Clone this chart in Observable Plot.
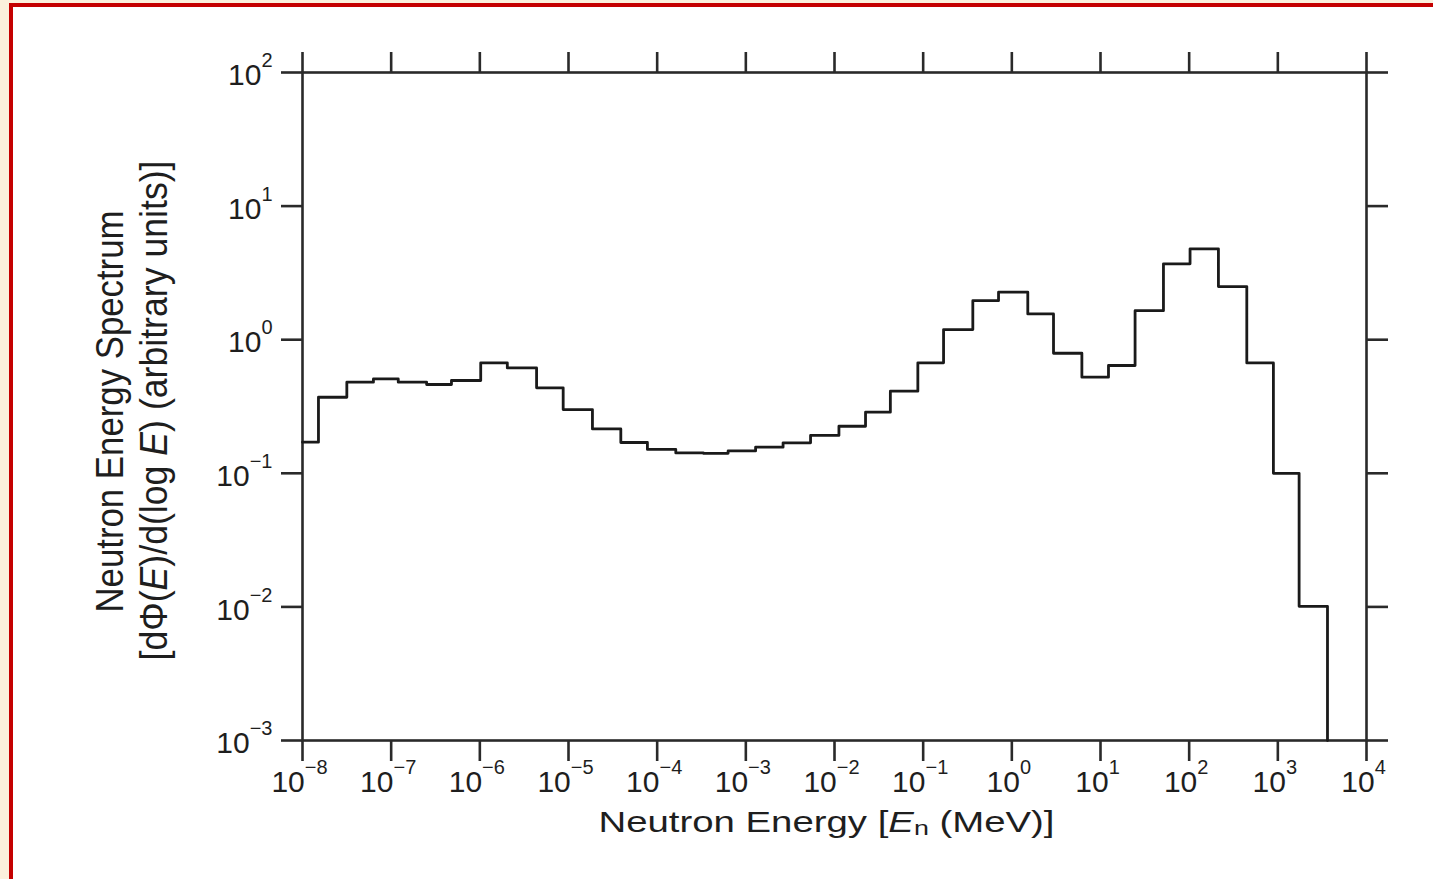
<!DOCTYPE html>
<html>
<head>
<meta charset="utf-8">
<script src="https://cdn.jsdelivr.net/npm/d3@7"></script>
<script src="https://cdn.jsdelivr.net/npm/@observablehq/plot@0.6"></script>
<style>
  html, body { margin: 0; padding: 0; }
  body { width: 1433px; height: 879px; overflow: hidden; background: #fbf0dc; position: relative; }
  #sheet { position: absolute; left: 9px; top: 3px; width: 1440px; height: 890px; background: #ffffff;
           border-top: 4px solid #c40000; border-left: 4px solid #c40000; }
  #chart { position: absolute; left: 0; top: 0; }
</style>
</head>
<body>
<div id="sheet"></div>
<div id="chart"></div>
<script>
// Histogram bin edges of the spectrum, as log10(E / MeV)
const binEdgeExponents = [
  -8.00, -7.82, -7.50, -7.20, -6.92, -6.60, -6.32, -5.99, -5.69, -5.36,
  -5.06, -4.73, -4.41, -4.11, -3.79, -3.48, -3.20, -2.89, -2.58, -2.27,
  -1.95, -1.65, -1.37, -1.06, -0.77, -0.44, -0.15, 0.18, 0.47, 0.79,
  1.09, 1.39, 1.71, 2.01, 2.33, 2.65, 2.95, 3.24, 3.56
];
// dΦ(E)/d(log E) in each bin, arbitrary units
const fluxPerBin = [
  0.171, 0.371, 0.481, 0.509, 0.481, 0.462, 0.495, 0.671, 0.615, 0.436,
  0.300, 0.215, 0.170, 0.151, 0.142, 0.141, 0.147, 0.157, 0.169, 0.192,
  0.225, 0.287, 0.412, 0.671, 1.19, 1.96, 2.27, 1.56, 0.792, 0.524,
  0.641, 1.65, 3.70, 4.79, 2.50, 0.67, 0.100, 0.0101
];
// Decade tick marks on both axes (exponents of 10)
const xTickExponents = [-8, -7, -6, -5, -4, -3, -2, -1, 0, 1, 2, 3, 4];
const yTickExponents = [-3, -2, -1, 0, 1, 2];

const xTitle = "Neutron Energy [En (MeV)]";
const yTitleLines = ["Neutron Energy Spectrum", "[dΦ(E)/d(log E) (arbitrary units)]"];

const xDomain = [1e-8, 1e4];
const yDomain = [1e-3, 1e2];
const xTicks = xTickExponents.map(e => 10 ** e);
const yTicks = yTickExponents.map(e => 10 ** e);

// Step outline: each bin starts at its lower edge; the last bin closes down to the axis floor
const steps = fluxPerBin.map((v, i) => ({energy: 10 ** binEdgeExponents[i], flux: v}));
const lastEdge = 10 ** binEdgeExponents[binEdgeExponents.length - 1];
steps.push({energy: lastEdge, flux: fluxPerBin[fluxPerBin.length - 1]});
steps.push({energy: lastEdge, flux: yDomain[0]});

const ink = "#2a2a2a";
const exponentOf = d => String(Math.round(Math.log10(d)));

const chart = Plot.plot({
  width: 1433,
  height: 879,
  marginLeft: 302,
  marginRight: 67,
  marginTop: 72,
  marginBottom: 139,
  x: {type: "log", domain: xDomain},
  y: {type: "log", domain: yDomain},
  style: {background: "transparent", fontFamily: "'Liberation Sans', Arial, sans-serif", color: "#1e1e1e", overflow: "visible"},
  marks: [
    Plot.frame({stroke: ink, strokeWidth: 2.6}),
    Plot.axisX(xTicks, {anchor: "bottom", tickSize: 21, tickPadding: 9, strokeWidth: 2.6, stroke: ink,
      tickFormat: exponentOf, fontSize: 30, label: null, className: "xticklab"}),
    Plot.axisX(xTicks, {anchor: "top", tickSize: 21, strokeWidth: 2.6, stroke: ink,
      tickFormat: () => "", label: null}),
    Plot.axisY(yTicks, {anchor: "left", tickSize: 21, tickPadding: 9, strokeWidth: 2.6, stroke: ink,
      tickFormat: exponentOf, fontSize: 30, label: null, className: "yticklab"}),
    Plot.axisY(yTicks, {anchor: "right", tickSize: 21, strokeWidth: 2.6, stroke: ink,
      tickFormat: () => "", label: null}),
    Plot.line(steps, {x: "energy", y: "flux", curve: "step-after", stroke: "#1a1a1a", strokeWidth: 2.8}),
    Plot.text([xTitle], {text: d => d, frameAnchor: "bottom", lineAnchor: "bottom", textAnchor: "middle",
      dx: -8, dy: 91, fontSize: 30, className: "xtitle"}),
    Plot.text([yTitleLines[0]], {text: d => d, frameAnchor: "left", rotate: -90, lineAnchor: "bottom",
      textAnchor: "middle", dx: -180, dy: 5, fontSize: 33, className: "ytitle1"}),
    Plot.text([yTitleLines[1]], {text: d => d, frameAnchor: "left", rotate: -90, lineAnchor: "bottom",
      textAnchor: "middle", dx: -136, dy: 4, fontSize: 33, className: "ytitle2"})
  ]
});

document.getElementById("chart").appendChild(chart);

// Tick labels as 10 with a raised exponent; small nudges move only the text, not the ticks
function powerLabel(node, nudgeX, nudgeY) {
  const e = node.textContent;
  if (!e) return;
  node.textContent = "10";
  if (nudgeX) node.setAttribute("dx", nudgeX);
  if (nudgeY) node.setAttribute("dy", nudgeY);
  d3.select(node).append("tspan").attr("dy", -18).attr("font-size", 20).text(e.replace("-", "\u2212"));
}
d3.select(chart).selectAll("g.xticklab text").each(function () { powerLabel(this, -3, 0); });
d3.select(chart).selectAll("g.yticklab text").each(function () { powerLabel(this, 0, 3); });

// Writes rich text into a text element from styled parts
function richText(node, parts) {
  node.textContent = "";
  const sel = d3.select(node);
  let shift = 0;
  for (const p of parts) {
    const t = sel.append("tspan").text(p.text);
    if (p.italic) t.attr("font-style", "italic");
    if (p.size) t.attr("font-size", p.size);
    const target = p.sub || 0;
    if (target !== shift) { t.attr("dy", target - shift); shift = target; }
  }
}

d3.select(chart).selectAll("g.xtitle text").each(function () {
  richText(this, [
    {text: "Neutron Energy ["},
    {text: "E", italic: true},
    {text: "n", size: 21, sub: 3},
    {text: " (MeV)]"}
  ]);
  this.setAttribute("textLength", 456);
  this.setAttribute("lengthAdjust", "spacingAndGlyphs");
});

d3.select(chart).selectAll("g.ytitle1 text").each(function () {
  this.setAttribute("textLength", 402);
  this.setAttribute("lengthAdjust", "spacingAndGlyphs");
  this.setAttribute("transform", this.getAttribute("transform") + " scale(1,1.15)");
});

d3.select(chart).selectAll("g.ytitle2 text").each(function () {
  richText(this, [
    {text: "[dΦ("},
    {text: "E", italic: true},
    {text: ")/d(log "},
    {text: "E", italic: true},
    {text: ") (arbitrary units)]"}
  ]);
  this.setAttribute("textLength", 500);
  this.setAttribute("lengthAdjust", "spacingAndGlyphs");
  this.setAttribute("transform", this.getAttribute("transform") + " scale(1,1.15)");
});
</script>
</body>
</html>
